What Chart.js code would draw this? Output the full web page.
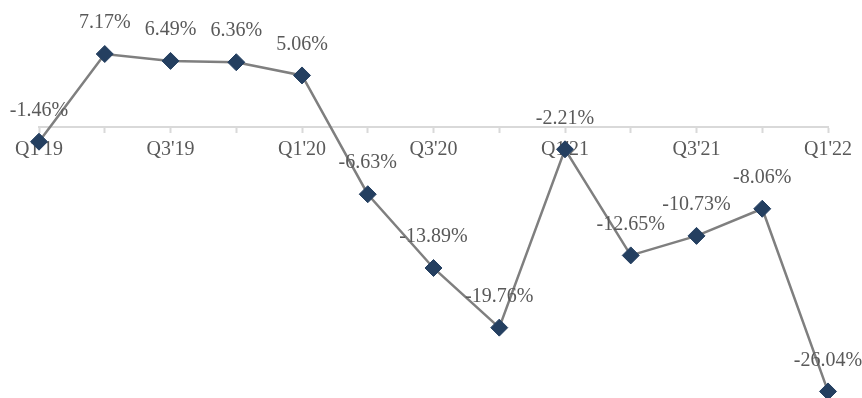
<!DOCTYPE html>
<html>
<head>
    <title>Quarterly change</title>
    <style>
        body {
            margin: 0;
            background: #ffffff;
        }

        .chart-container {
            position: relative;
            width: 862px;
            height: 398px;
        }
    </style>
    <script src="https://cdn.jsdelivr.net/npm/chart.js"></script>
</head>
<body>
    <div class="chart-container">
        <canvas id="growthChart"></canvas>
    </div>

    <script>
        // Quarters and values (%)
        const quarters = ["Q1'19", "Q2'19", "Q3'19", "Q4'19", "Q1'20", "Q2'20", "Q3'20", "Q4'20",
                          "Q1'21", "Q2'21", "Q3'21", "Q4'21", "Q1'22"];
        const changePct = [-1.46, 7.17, 6.49, 6.36, 5.06, -6.63, -13.89, -19.76, -2.21, -12.65, -10.73, -8.06, -26.04];
        const yMin = -25.75;
        const yMax = 11.55;

        const serifFont = "'Liberation Serif', 'DejaVu Serif', serif";

        // Draws the percentage above every point
        const valueLabels = {
            id: 'valueLabels',
            afterDatasetsDraw(chart) {
                const ctx = chart.ctx;
                const meta = chart.getDatasetMeta(0);
                ctx.save();
                ctx.font = '20px ' + serifFont;
                ctx.fillStyle = '#595959';
                ctx.textAlign = 'center';
                ctx.textBaseline = 'middle';
                meta.data.forEach((pt, i) => {
                    ctx.fillText(changePct[i].toFixed(2) + '%', pt.x, pt.y - 31);
                });
                ctx.restore();
            }
        };

        const ctx = document.getElementById('growthChart').getContext('2d');
        new Chart(ctx, {
            type: 'line',
            data: {
                labels: quarters,
                datasets: [{
                    data: changePct,
                    borderColor: '#7f7f7f',
                    borderWidth: 2.5,
                    tension: 0,
                    pointStyle: 'rectRot',
                    pointRadius: 8.5,
                    pointBackgroundColor: '#243f60',
                    pointBorderColor: '#243f60',
                    pointBorderWidth: 1,
                    clip: false
                }]
            },
            options: {
                responsive: true,
                maintainAspectRatio: false,
                animation: false,
                layout: {
                    padding: { left: 39, right: 34, top: 4, bottom: 1 }
                },
                plugins: {
                    legend: { display: false },
                    tooltip: { enabled: false }
                },
                scales: {
                    x: {
                        position: { y: 0 },
                        offset: false,
                        border: { color: '#d9d9d9', width: 2 },
                        grid: {
                            drawOnChartArea: false,
                            tickLength: 5,
                            tickColor: '#d9d9d9',
                            tickWidth: 2
                        },
                        ticks: {
                            autoSkip: false,
                            maxRotation: 0,
                            padding: 6,
                            color: '#595959',
                            font: { family: serifFont, size: 20 },
                            callback: (val, i) => (i % 2 === 0 ? quarters[i] : '')
                        }
                    },
                    y: {
                        display: false,
                        min: yMin,
                        max: yMax
                    }
                }
            },
            plugins: [valueLabels]
        });
    </script>
</body>
</html>
